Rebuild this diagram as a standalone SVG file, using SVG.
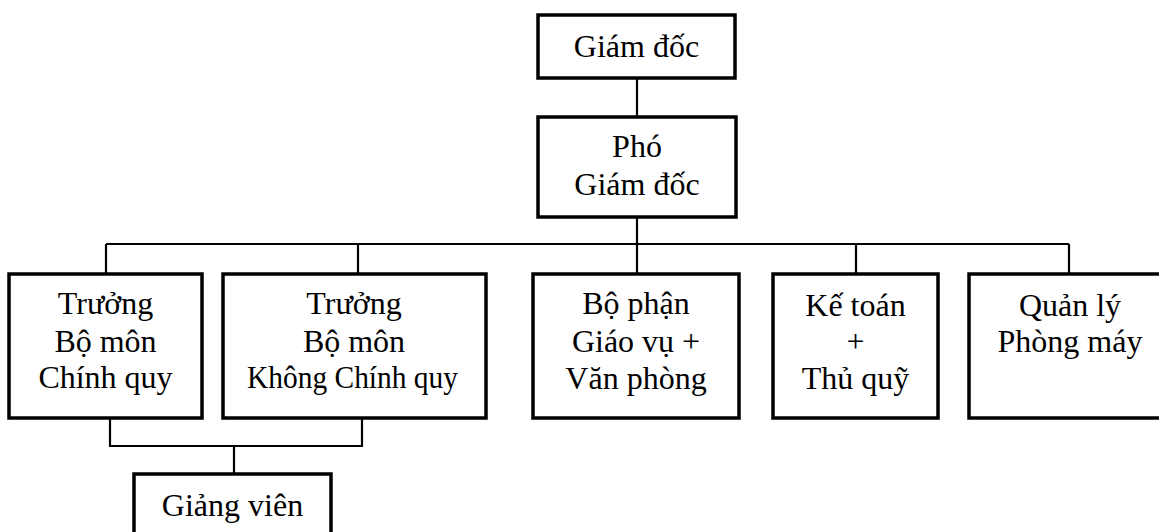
<svg xmlns="http://www.w3.org/2000/svg" width="1159" height="532" viewBox="0 0 1159 532">
<style>
.box{fill:#fff;stroke:#000;stroke-width:3.5}
.ln{fill:none;stroke:#000;stroke-width:2.2}
.t{font-size:32px;fill:#000;text-anchor:middle}
</style>
<rect width="1159" height="532" fill="#fff"/>
<g id="connectors">
<path class="ln" d="M637 78V117M637 217V244M106 244H1069M106 244V274M358 244V274M637 244V274M856 244V274M1069 244V274"/>
<path class="ln" d="M110 418V446H362V418M234 446V474"/>
</g>
<g class="t" font-family="Liberation Serif, DejaVu Serif, serif">
<g id="giam-doc">
<rect class="box" x="538" y="15" width="197" height="63"/>
<text x="636.5" y="57">Giám đốc</text>
</g>
<g id="pho-giam-doc">
<rect class="box" x="538" y="117" width="198" height="100"/>
<text x="637" y="157">Phó</text>
<text x="637" y="195">Giám đốc</text>
</g>
<g id="truong-bm-chinh-quy">
<rect class="box" x="9" y="274" width="193" height="144"/>
<text x="105.5" y="314">Trưởng</text>
<text x="105.5" y="352">Bộ môn</text>
<text x="105.5" y="388">Chính quy</text>
</g>
<g id="truong-bm-khong-chinh-quy">
<rect class="box" x="223" y="274" width="263" height="144"/>
<text x="354" y="314">Trưởng</text>
<text x="354" y="352">Bộ môn</text>
<text x="352.5" y="388" textLength="211" lengthAdjust="spacingAndGlyphs">Không Chính quy</text>
</g>
<g id="giao-vu">
<rect class="box" x="533" y="274" width="206" height="144"/>
<text x="636" y="314">Bộ phận</text>
<text x="636" y="352">Giáo vụ +</text>
<text x="636" y="389">Văn phòng</text>
</g>
<g id="ke-toan">
<rect class="box" x="773" y="274" width="165" height="144"/>
<text x="855.5" y="316">Kế toán</text>
<text x="855.5" y="352">+</text>
<text x="855.5" y="389">Thủ quỹ</text>
</g>
<g id="phong-may">
<rect class="box" x="969" y="274" width="220" height="144"/>
<text x="1070" y="316">Quản lý</text>
<text x="1070" y="352">Phòng máy</text>
</g>
<g id="giang-vien">
<rect class="box" x="134" y="474" width="197" height="80"/>
<text x="232.5" y="516">Giảng viên</text>
</g>
</g>
</svg>
